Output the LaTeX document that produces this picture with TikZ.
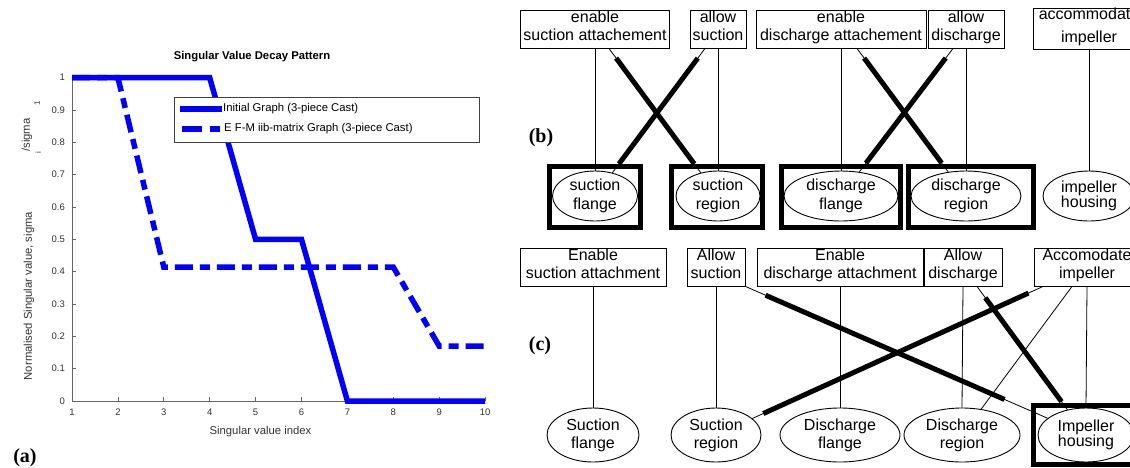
\documentclass[tikz,border=0pt]{standalone}
\usepackage{fontspec}
\setmainfont{Liberation Sans}
\newfontfamily\labfont{Liberation Serif}
\usetikzlibrary{shapes.geometric}
\definecolor{plotblue}{RGB}{0,0,255}
\definecolor{axgray}{gray}{0.4}
\definecolor{txtgray}{gray}{0.2}
\tikzset{
  fbox/.style={draw, line width=0.9pt, align=center, inner sep=0pt, minimum height=38pt, text depth=7pt, font=\fontsize{16}{18}\selectfont},
  ell/.style={draw, ellipse, line width=0.9pt, inner sep=0pt, align=center, font=\fontsize{16}{19}\selectfont},
  hilite/.style={draw, line width=5pt, inner sep=0pt},
  link/.style={line width=0.8pt},
  strong/.style={line width=5pt, shorten <=12pt, shorten >=11pt},
  panel/.style={font=\labfont\bfseries\fontsize{20}{20}\selectfont},
  chart/.style={font=\fontsize{11.3}{13}\selectfont, text=txtgray},
  tick/.style={font=\fontsize{9.5}{10}\selectfont, text=txtgray, inner sep=0pt},
  curve/.style={plotblue, line width=5.5pt},
  dcurve/.style={plotblue, line width=5.5pt, dash pattern=on 18pt off 7pt on 10pt off 7pt},
}
\begin{document}
\begin{tikzpicture}[x=1pt, y=-1pt]
\useasboundingbox (0,0) rectangle (1130,467);
\clip (0,0) rectangle (1130,467);

% ---------------- (a) chart ----------------
\node[font=\bfseries\fontsize{11.3}{13}\selectfont] (title) at (252,57) {Singular Value Decay Pattern};
\begin{scope}[shift={(72,401)}, x=45.9pt, y=323.3pt]
  \draw[axgray, line width=0.8pt] (0,1) -- (0,0) -- (9,0);
  \foreach \v/\t in {0/0,0.1/0.1,0.2/0.2,0.3/0.3,0.4/0.4,0.5/0.5,0.6/0.6,0.7/0.7,0.8/0.8,0.9/0.9,1/1} {
    \draw[axgray, line width=0.7pt] (0,\v) -- ++(4pt,0pt);
    \node[tick, anchor=east] (yt\t) at ([xshift=-7pt]0,\v) {\t};
  }
  \foreach \i in {1,...,10} {
    \draw[axgray, line width=0.7pt] (\i-1,0) -- ++(0pt,4pt);
    \node[tick] (xt\i) at ([yshift=-11pt]\i-1,0) {\i};
  }
  \draw[curve] (0,1) -- (3,1) -- (4,0.5) -- (5,0.5) -- (6,0) -- (9,0);
  \draw[dcurve] (0,1) -- (1,1) -- (2,0.414) -- (7,0.414) -- (8,0.17) -- (9,0.17);
\end{scope}
\node[chart] (xlab) at (260.5,432) {Singular value index};
\node[chart, rotate=90] (ylab) at (29,296) {Normalised Singular value, sigma};
\node[chart, rotate=90] (ylab2) at (27,135) {/sigma};
\node[chart, rotate=90, font=\fontsize{8}{9}\selectfont] (ylabi) at (38,153) {i};
\node[chart, rotate=90, font=\fontsize{8}{9}\selectfont] (ylab1) at (37,103) {1};
% legend
\node[draw=black!75, fill=white, line width=0.8pt, minimum width=305pt, minimum height=45pt, inner sep=0pt] (leg) at (326.5,119.5) {};
\coordinate (l1a) at (180,109); \coordinate (l1b) at (222,109);
\coordinate (l2a) at (182,129); \coordinate (l2b) at (220,129);
\draw[curve] (l1a) -- (l1b);
\draw[plotblue, line width=5.5pt, dash pattern=on 20pt off 8pt on 10pt off 8pt] (l2a) -- (l2b);
\node[font=\fontsize{11.3}{13}\selectfont, anchor=west, inner sep=0pt] (leg1) at (223,109) {Initial Graph (3-piece Cast)};
\node[font=\fontsize{11.3}{13}\selectfont, anchor=west, inner sep=0pt] (leg2) at (224,129) {E F-M iib-matrix Graph (3-piece Cast)};
\node[panel] (pa) at (25,458) {(a)};

% ---------------- (b) ----------------
\node[fbox, minimum width=149pt] (b1) at (595,29) {enable\\suction attachement};
\node[fbox, minimum width=56pt] (b2) at (718,29) {allow\\suction};
\node[fbox, minimum width=170pt] (b3) at (841,29) {enable\\discharge attachement};
\node[fbox, minimum width=76pt] (b4) at (966,29) {allow\\discharge};
\node[fbox, minimum width=112pt] (b5) at (1089,29) {accommodate\\[5pt]impeller};

\node[ell, minimum width=85pt, minimum height=50pt] (e1) at (595,196) {suction\\flange};
\node[ell, minimum width=84pt, minimum height=50pt] (e2) at (718,196) {suction\\region};
\node[ell, minimum width=114pt, minimum height=50pt] (e3) at (841,196) {discharge\\flange};
\node[ell, minimum width=110pt, minimum height=50pt] (e4) at (966,196) {discharge\\region};
\node[ell, minimum width=92pt, minimum height=50pt, font=\fontsize{16}{15}\selectfont] (e5) at (1089,196) {impeller\\housing};

\draw[link] (b1.south) -- (e1.north);
\draw[link] (b2.south) -- (e2.north);
\draw[link] (b3.south) -- (e3.north);
\draw[link] (b4.south) -- (e4.north);
\draw[link] (b5.south) -- (e5.north);

\draw[link] ([xshift=14pt]b1.south) -- (e2);
\draw[strong] ([xshift=14pt]b1.south) -- (e2);
\draw[link] ([xshift=-13pt]b2.south) -- (e1);
\draw[strong] ([xshift=-13pt]b2.south) -- (e1);
\draw[link] ([xshift=16pt]b3.south) -- (e4);
\draw[strong] ([xshift=16pt]b3.south) -- (e4);
\draw[link] ([xshift=-13pt]b4.south) -- (e3);
\draw[strong] ([xshift=-13pt]b4.south) -- (e3);

\node[hilite, minimum width=91pt, minimum height=61pt] (r1) at (595,196.5) {};
\node[hilite, minimum width=91.5pt, minimum height=61pt] (r2) at (717,196.5) {};
\node[hilite, minimum width=119pt, minimum height=61pt] (r3) at (841,196.5) {};
\node[hilite, minimum width=125pt, minimum height=61pt] (r4) at (971,196.5) {};
\node[panel] (pb) at (541,138) {(b)};

% ---------------- (c) ----------------
\node[fbox, minimum width=146pt] (c1) at (593,267) {Enable\\suction attachment};
\node[fbox, minimum width=58pt] (c2) at (716,267) {Allow\\suction};
\node[fbox, minimum width=166pt] (c3) at (840,267) {Enable\\discharge attachment};
\node[fbox, minimum width=78pt] (c4) at (963,267) {Allow\\discharge};
\node[fbox, minimum width=106pt] (c5) at (1087,267) {Accomodate\\impeller};

\node[ell, minimum width=92pt, minimum height=54pt, font=\fontsize{16}{18}\selectfont] (f1) at (593,435) {Suction\\flange};
\node[ell, minimum width=90pt, minimum height=54pt, font=\fontsize{16}{18}\selectfont] (f2) at (716,435) {Suction\\region};
\node[ell, minimum width=120pt, minimum height=54pt, font=\fontsize{16}{18}\selectfont] (f3) at (840,435) {Discharge\\flange};
\node[ell, minimum width=116pt, minimum height=54pt, font=\fontsize{16}{18}\selectfont] (f4) at (962,435) {Discharge\\region};
\node[ell, minimum width=96pt, minimum height=54pt, font=\fontsize{16}{15}\selectfont] (f5) at (1086,435) {Impeller\\housing};

\draw[link] (c1.south) -- (f1.north);
\draw[link] (c2.south) -- (f2.north);
\draw[link] (c3.south) -- (f3.north);
\draw[link] (c4.south) -- (f4.north);
\draw[link] (c5.south) -- (f5.north);

\draw[link] (c2.south east) -- (f5);
\draw[strong, shorten <=22pt, shorten >=47pt] (c2.south east) -- (f5);
\draw[link] ([xshift=14pt]c4.south) -- (f5);
\draw[strong, shorten <=14pt, shorten >=10pt] ([xshift=14pt]c4.south) -- (f5);
\draw[link] ([xshift=-44pt]c5.south) -- (f2);
\draw[strong, shorten <=16pt, shorten >=12pt] ([xshift=-44pt]c5.south) -- (f2);
\draw[link] ([xshift=-15pt]c5.south) -- (f4);

\node[hilite, minimum width=102pt, minimum height=59pt] (r5) at (1084,434.5) {};
\node[panel] (pc) at (540,346) {(c)};
\end{tikzpicture}
\end{document}
